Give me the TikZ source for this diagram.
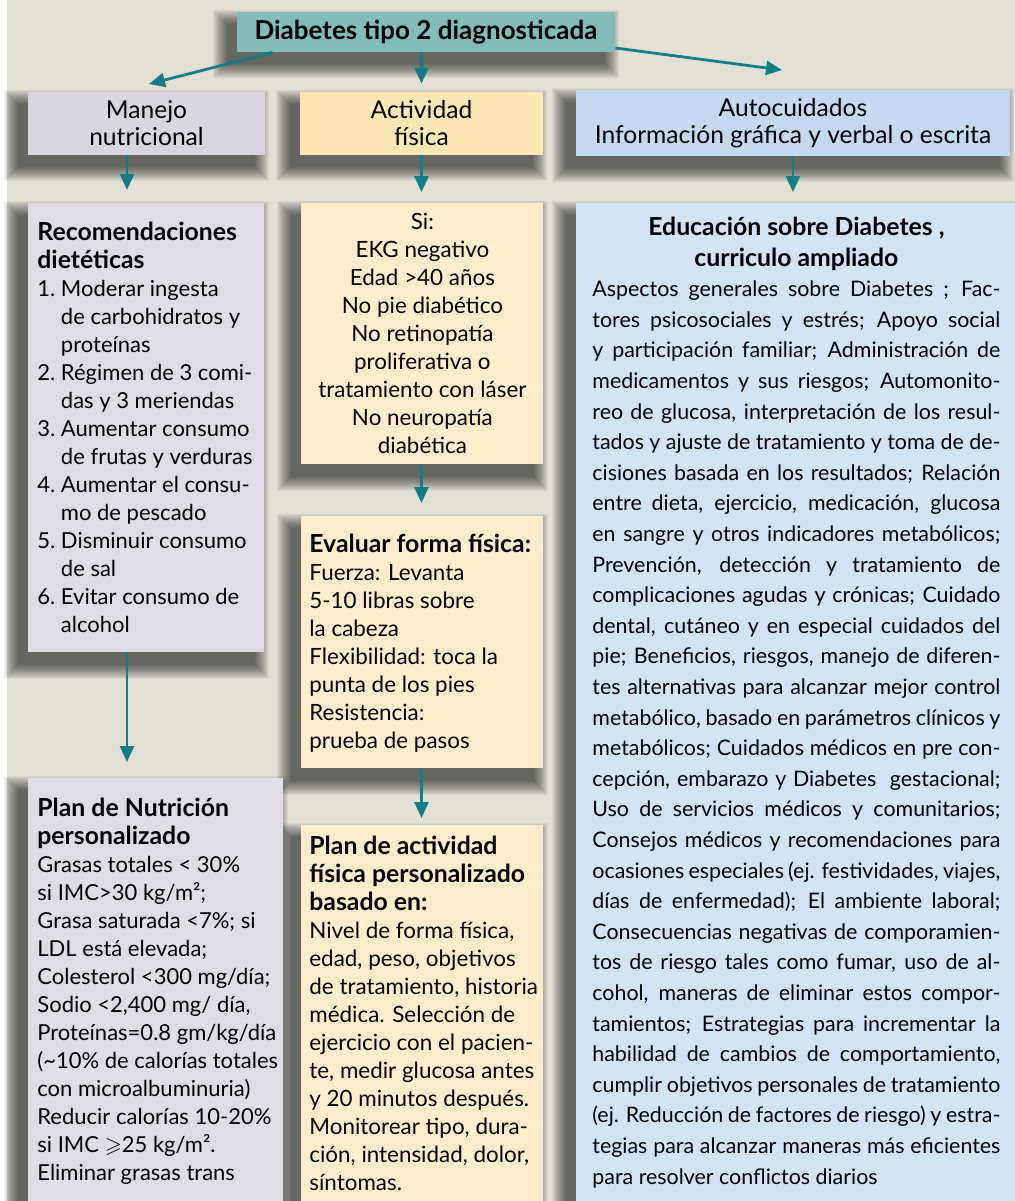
\documentclass[tikz,border=0pt]{standalone}
\usepackage{amssymb}
\usepackage{fontspec}
\setmainfont{Lato}
\usetikzlibrary{arrows.meta}

\definecolor{bgcol}{HTML}{E2E0D5}
\definecolor{topteal}{HTML}{80BDB6}
\definecolor{arrowteal}{HTML}{127E87}
\definecolor{lilacA}{HTML}{D8D5DF}
\definecolor{lilacB}{HTML}{DFDCE6}
\definecolor{sandA}{HTML}{FCE7B2}
\definecolor{sandB}{HTML}{FEEDC8}
\definecolor{skyA}{HTML}{C3D9EF}
\definecolor{skyB}{HTML}{D3E3F6}

\pgfdeclarelayer{paper}
\pgfdeclarelayer{shade}
\pgfsetlayers{paper,shade,main}

\newcommand{\panel}[5][\raggedright\rightskip=-15pt plus 1fil]{\parbox[c][#3][t]{#2}{#1\rule{0pt}{#4}#5}}
\newcommand{\jline}[1]{\makebox[\linewidth][s]{#1}\\}
\newcommand{\ind}{\hphantom{1.~}}
\newcommand{\hd}[1]{{\fontsize{12.4pt}{14pt}\selectfont\bfseries #1}}

\begin{document}
\begin{tikzpicture}[x=0.5pt,y=-0.5pt,
  every node/.style={inner sep=0pt},
  head/.style={align=center,font=\fontsize{12.3pt}{13.5pt}\selectfont},
  card/.style={anchor=north west,inner xsep=4.5pt,font=\fontsize{11pt}{14pt}\selectfont},
  haze/.style={fill=black,opacity=.046},
  link/.style={draw=arrowteal,line width=1.4pt,-{Triangle[length=8pt,width=7pt]}}]

\useasboundingbox (0,0) rectangle (1015,1201);
\begin{pgfonlayer}{paper}
\fill[white] (0,0) rectangle (1015,1201);
\fill[bgcol] (7,0) rectangle (1015,1201);
\end{pgfonlayer}

\node[head,fill=topteal,minimum width=189pt,minimum height=20pt,font=\fontsize{13pt}{14pt}\selectfont\bfseries]
  (diag) at (426,32) {Diabetes tipo 2 diagnosticada};

\node[head,fill=lilacA,minimum width=118.5pt,minimum height=31.5pt] (manejo) at (146.5,123.5) {Manejo\\nutricional};
\node[head,fill=sandA,minimum width=121.5pt,minimum height=31.5pt] (act) at (421.5,123.5) {Actividad\\física};
\node[head,fill=skyA,minimum width=217pt,minimum height=33pt] (auto) at (793,123) {Autocuidados\\Información gráfica y verbal o escrita};

\node[card,fill=lilacB] (recom) at (28,203) {\panel{109pt}{224.5pt}{18.5pt}{%
\hd{Recomendaciones}\\
\hd{dietéticas}\\
1.~Moderar ingesta\\
\ind de carbohidratos y\\
\ind proteínas\\
2.~Régimen de 3 comi-\\
\ind das y 3 meriendas\\
3.~Aumentar consumo\\
\ind de frutas y verduras\\
4.~Aumentar el consu-\\
\ind mo de pescado\\
5.~Disminuir consumo\\
\ind de sal\\
6.~Evitar consumo de\\
\ind alcohol}};

\node[card,fill=lilacB] (plannut) at (28,778) {\panel{118.5pt}{222pt}{19pt}{%
\hd{Plan de Nutrición}\\
\hd{personalizado}\\
Grasas totales < 30\%\\
si IMC>30 kg/m²;\\
Grasa saturada <7\%; si\\
LDL está elevada;\\
Colesterol <300 mg/día;\\
Sodio <2,400 mg/ día,\\
Proteínas=0.8 gm/kg/día\\
(\textasciitilde10\% de calorías totales\\
con microalbuminuria)\\
Reducir calorías 10-20\%\\
si IMC $\geqslant$25 kg/m².\\
Eliminar grasas trans}};

\node[card,fill=sandB,inner xsep=3pt,font=\fontsize{11.2pt}{14pt}\selectfont] (si) at (301,203) {\panel[\centering\leftskip=-8pt plus 1fil\rightskip=-8pt plus 1fil]{115pt}{130.5pt}{13pt}{%
Si:\\
EKG negativo\\
Edad >40 años\\
No pie diabético\\
No retinopatía\\
proliferativa o\\
tratamiento con láser\\
No neuropatía\\
diabética}};

\node[card,fill=sandB,inner xsep=4pt,font=\fontsize{11.2pt}{14pt}\selectfont] (eval) at (301,516) {\panel{113pt}{126pt}{18pt}{%
\hd{Evaluar forma física:}\\
Fuerza: Levanta\\
5-10 libras sobre\\
la cabeza\\
Flexibilidad: toca la\\
punta de los pies\\
Resistencia:\\
prueba de pasos}};

\node[card,fill=sandB,inner xsep=4pt,font=\fontsize{11.2pt}{14pt}\selectfont] (planact) at (301,825) {\panel{113pt}{198pt}{14.5pt}{%
\hd{Plan de actividad}\\
\hd{física personalizado}\\
\hd{basado en:}\\
Nivel de forma física,\\
edad, peso, objetivos\\
de tratamiento, historia\\
médica. Selección de\\
ejercicio con el pacien-\\
te, medir glucosa antes\\
y 20 minutos después.\\
Monitorear tipo, dura-\\
ción, intensidad, dolor,\\
síntomas.}};

\node[card,fill=skyB,inner xsep=8pt,font=\fontsize{10.7pt}{15.3pt}\selectfont] (educ) at (576,203) {\parbox[c][510pt][t]{204pt}{%
{\centering\rule{0pt}{16pt}\hd{Educación sobre Diabetes ,}\\
\hd{curriculo ampliado}\par}
\jline{Aspectos generales sobre Diabetes ; Fac-}
\jline{tores psicosociales y estrés; Apoyo social}
\jline{y participación familiar; Administración de}
\jline{medicamentos y sus riesgos; Automonito-}
\jline{reo de glucosa, interpretación de los resul-}
\jline{tados y ajuste de tratamiento y toma de de-}
\jline{cisiones basada en los resultados; Relación}
\jline{entre dieta, ejercicio, medicación, glucosa}
\jline{en sangre y otros indicadores metabólicos;}
\jline{Prevención, detección y tratamiento de}
\jline{complicaciones agudas y crónicas; Cuidado}
\jline{dental, cutáneo y en especial cuidados del}
\jline{pie; Beneficios, riesgos, manejo de diferen-}
\jline{tes alternativas para alcanzar mejor control}
\jline{metabólico, basado en parámetros clínicos y}
\jline{metabólicos; Cuidados médicos en pre con-}
\jline{cepción, embarazo y Diabetes \ gestacional;}
\jline{Uso de servicios médicos y comunitarios;}
\jline{Consejos médicos y recomendaciones para}
\jline{ocasiones especiales (ej. festividades, viajes,}
\jline{días de enfermedad); El ambiente laboral;}
\jline{Consecuencias negativas de comporamien-}
\jline{tos de riesgo tales como fumar, uso de al-}
\jline{cohol, maneras de eliminar estos compor-}
\jline{tamientos; Estrategias para incrementar la}
\jline{habilidad de cambios de comportamiento,}
\jline{cumplir objetivos personales de tratamiento}
\jline{(ej. Reducción de factores de riesgo) y estra-}
\jline{tegias para alcanzar maneras más eficientes}
para resolver conflictos diarios}};

\begin{pgfonlayer}{shade}
\foreach \b in {diag,manejo,act,auto,recom,plannut,si,eval,planact,educ}
  \foreach \r in {0,...,14}
    \fill[haze] ([shift={(-10-\r,12-\r)}]\b.north west) rectangle ([shift={(-10+\r,12+\r)}]\b.south east);
\end{pgfonlayer}

\coordinate (tipL) at (149,84);
\coordinate (tipR) at (782,70);
\coordinate (colA) at (127,0);

\draw[link] ([xshift=18pt]diag.south west) -- (tipL);
\draw[link,shorten >=4pt] (diag.south -| act.north) -- (act.north);
\draw[link] ([yshift=-8pt]diag.east) -- (tipR);
\draw[link,shorten >=6.5pt] (manejo.south -| colA) -- (recom.north -| colA);
\draw[link,shorten >=5.5pt] (act.south) -- (act.south |- si.north);
\draw[link,shorten >=5.5pt] (auto.south) -- (auto.south |- educ.north);
\draw[link,shorten >=6.5pt] (si.south -| act.south) -- (act.south |- eval.north);
\draw[link,shorten >=3.5pt] (eval.south -| act.south) -- (act.south |- planact.north);
\draw[link,shorten >=8pt] (recom.south -| colA) -- (plannut.north -| colA);
\end{tikzpicture}
\end{document}
